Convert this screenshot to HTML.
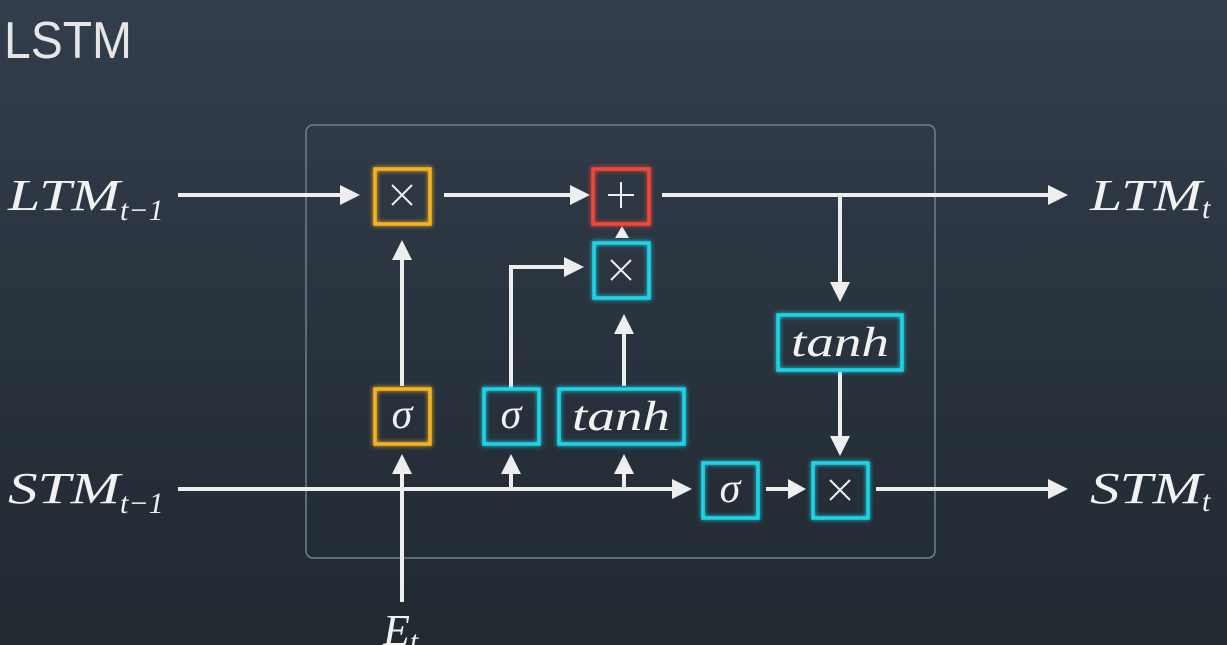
<!DOCTYPE html>
<html><head><meta charset="utf-8"><style>
html,body{margin:0;padding:0;width:1227px;height:645px;overflow:hidden;background:#2b3541}
svg{display:block}
.m{font-family:"Liberation Serif","DejaVu Serif",serif;font-style:italic;fill:#f2f2f2}
</style></head><body>
<svg width="1227" height="645" viewBox="0 0 1227 645">
<defs>
<linearGradient id="bg" x1="0" y1="0" x2="0" y2="1"><stop offset="0" stop-color="#323e4c"/><stop offset="1" stop-color="#212931"/></linearGradient>
<filter id="gl" x="-30%" y="-30%" width="160%" height="160%"><feGaussianBlur stdDeviation="2.5" result="b"/><feMerge><feMergeNode in="b"/><feMergeNode in="SourceGraphic"/></feMerge></filter>
</defs>
<rect width="1227" height="645" fill="url(#bg)"/>
<text x="4" y="58" font-family="Liberation Sans,sans-serif" font-size="52" fill="#e6e6e6" textLength="128" lengthAdjust="spacingAndGlyphs">LSTM</text>
<rect x="306" y="125" width="629" height="433" rx="7" fill="none" stroke="#6d8090" stroke-width="1.5"/>
<g stroke="#eeeeee" stroke-width="4" fill="none">
<g><line x1="178" y1="195" x2="342" y2="195"/><path d="M340,185 L360,195 L340,205z" fill="#eee" stroke="none"/></g>
<g><line x1="444" y1="195" x2="572" y2="195"/><path d="M570,185 L590,195 L570,205z" fill="#eee" stroke="none"/></g>
<g><line x1="662" y1="195" x2="1050" y2="195"/><path d="M1048,185 L1068,195 L1048,205z" fill="#eee" stroke="none"/></g>
<g><line x1="840" y1="195" x2="840" y2="284"/><path d="M830,282 L840,302 L850,282z" fill="#eee" stroke="none"/></g>
<g><line x1="840" y1="372" x2="840" y2="438"/><path d="M830,436 L840,456 L850,436z" fill="#eee" stroke="none"/></g>
<g><path d="M615,238 L622,226 L629,238z" fill="#eee" stroke="none"/></g>
<g><polyline points="511,388 511,267 566,267"/><path d="M564,257 L584,267 L564,277z" fill="#eee" stroke="none"/></g>
<g><line x1="624" y1="386" x2="624" y2="332"/><path d="M614,334 L624,314 L634,334z" fill="#eee" stroke="none"/></g>
<g><line x1="402" y1="386" x2="402" y2="258"/><path d="M392,260 L402,240 L412,260z" fill="#eee" stroke="none"/></g>
<g><line x1="178" y1="489" x2="676" y2="489"/><path d="M672,479 L692,489 L672,499z" fill="#eee" stroke="none"/></g>
<g><line x1="511" y1="489" x2="511" y2="470"/><path d="M501,474 L511,454 L521,474z" fill="#eee" stroke="none"/></g>
<g><line x1="624" y1="489" x2="624" y2="470"/><path d="M614,474 L624,454 L634,474z" fill="#eee" stroke="none"/></g>
<g><line x1="766" y1="489" x2="790" y2="489"/><path d="M788,479 L806,489 L788,499z" fill="#eee" stroke="none"/></g>
<g><line x1="876" y1="489" x2="1050" y2="489"/><path d="M1048,479 L1068,489 L1048,499z" fill="#eee" stroke="none"/></g>
<g><line x1="402" y1="602" x2="402" y2="472"/><path d="M392,474 L402,454 L412,474z" fill="#eee" stroke="none"/></g>
</g>
<g fill="none" stroke-width="3.5" filter="url(#gl)">
<rect x="375" y="169" width="55" height="55" stroke="#f5b323"/>
<rect x="593" y="169" width="56" height="55" stroke="#f0473a"/>
<rect x="594" y="243" width="55" height="55" stroke="#1ed4e6"/>
<rect x="778" y="315" width="124" height="55" stroke="#1ed4e6"/>
<rect x="375" y="389" width="55" height="55" stroke="#f5b323"/>
<rect x="484" y="389" width="55" height="55" stroke="#1ed4e6"/>
<rect x="559" y="389" width="125" height="55" stroke="#1ed4e6"/>
<rect x="703" y="463" width="55" height="55" stroke="#1ed4e6"/>
<rect x="813" y="463" width="55" height="55" stroke="#1ed4e6"/>
</g>
<g stroke="#eee" stroke-width="2">
<path d="M392,185 L412,205 M412,185 L392,205"/>
<path d="M621,182 L621,208 M608,195 L634,195"/>
<path d="M611,260 L631,280 M631,260 L611,280"/>
<path d="M830,480 L850,500 M850,480 L830,500"/>
</g>
<g class="m" font-size="42" text-anchor="middle">
<text x="402" y="428">σ</text><text x="511" y="428">σ</text><text x="730" y="502">σ</text>
<text x="621" y="430" textLength="98" lengthAdjust="spacingAndGlyphs">tanh</text><text x="840" y="356" textLength="98" lengthAdjust="spacingAndGlyphs">tanh</text>
</g>
<g class="m" font-size="44">
<text x="8" y="210"><tspan textLength="112" lengthAdjust="spacingAndGlyphs">LTM</tspan><tspan font-size="30" dy="10">t−1</tspan></text>
<text x="8" y="503"><tspan textLength="112" lengthAdjust="spacingAndGlyphs">STM</tspan><tspan font-size="30" dy="10">t−1</tspan></text>
<text x="1090" y="210"><tspan textLength="112" lengthAdjust="spacingAndGlyphs">LTM</tspan><tspan font-size="30" dy="8">t</tspan></text>
<text x="1090" y="503"><tspan textLength="112" lengthAdjust="spacingAndGlyphs">STM</tspan><tspan font-size="30" dy="8">t</tspan></text>
<text x="383" y="645">E<tspan font-size="30" dy="6">t</tspan></text>
</g>
</svg>
</body></html>
